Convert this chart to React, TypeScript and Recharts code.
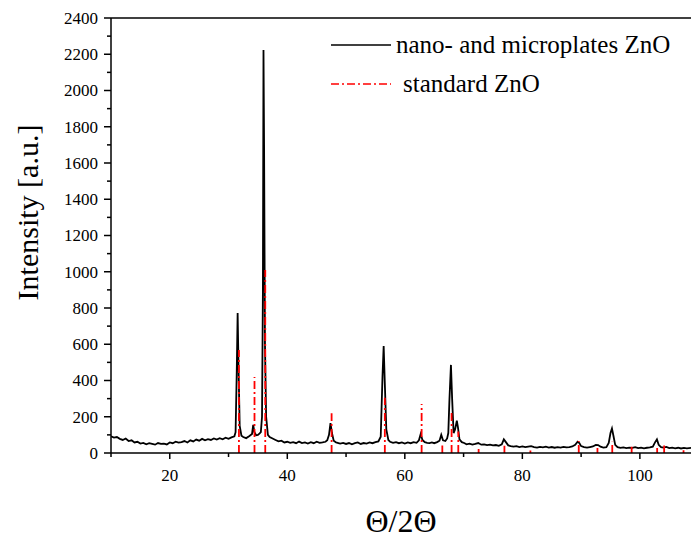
import { LineChart, Line, XAxis, YAxis, Legend, ReferenceLine, Label } from 'recharts';

// measured XRD pattern (2θ, intensity)
const twoTheta = [
  10.0, 10.5, 11.0, 11.5, 12.0, 12.5, 13.0, 13.5, 14.0, 14.5, 15.0, 15.5, 16.0, 16.5, 17.0, 17.5,
  18.0, 18.5, 19.0, 19.5, 20.0, 20.5, 21.0, 21.5, 22.0, 22.5, 23.0, 23.5, 24.0, 24.5, 25.0, 25.5,
  26.0, 26.5, 27.0, 27.5, 28.0, 28.5, 29.0, 29.5, 30.0, 30.5, 31.0, 31.2, 31.4, 31.55, 31.7, 31.9,
  32.2, 32.5, 33.0, 33.5, 34.0, 34.2, 34.4, 34.7, 35.0, 35.3, 35.5, 35.7, 35.85, 35.95, 36.05, 36.2,
  36.4, 36.7, 37.0, 37.5, 38.0, 38.5, 39.0, 39.5, 40.0, 40.5, 41.0, 41.5, 42.0, 42.5, 43.0, 43.5,
  44.0, 44.5, 45.0, 45.5, 46.0, 46.5, 46.8, 47.1, 47.35, 47.6, 47.9, 48.3, 48.7, 49.0, 49.5, 50.0,
  50.5, 51.0, 51.5, 52.0, 52.5, 53.0, 53.5, 54.0, 54.5, 55.0, 55.5, 55.9, 56.2, 56.4, 56.6, 56.85,
  57.2, 57.5, 58.0, 58.5, 59.0, 59.5, 60.0, 60.5, 61.0, 61.5, 62.0, 62.4, 62.7, 63.0, 63.4, 63.8,
  64.2, 64.6, 65.0, 65.5, 65.9, 66.2, 66.5, 66.9, 67.2, 67.4, 67.6, 67.85, 68.05, 68.3, 68.55, 68.85,
  69.05, 69.3, 69.7, 70.1, 70.5, 71.0, 71.5, 72.0, 72.5, 73.0, 73.5, 74.0, 74.5, 75.0, 75.5, 76.0,
  76.5, 76.85, 77.2, 77.6, 78.0, 78.5, 79.0, 79.5, 80.0, 80.5, 81.0, 81.5, 82.0, 82.5, 83.0, 83.5,
  84.0, 84.5, 85.0, 85.5, 86.0, 86.5, 87.0, 87.5, 88.0, 88.5, 89.0, 89.4, 89.7, 90.0, 90.5, 91.0,
  91.5, 92.0, 92.5, 92.9, 93.3, 93.8, 94.3, 94.7, 95.0, 95.25, 95.5, 95.8, 96.2, 96.7, 97.2, 97.7,
  98.2, 98.7, 99.2, 99.7, 100.2, 100.7, 101.2, 101.7, 102.2, 102.6, 102.9, 103.2, 103.6, 104.0, 104.5, 105.0,
  105.5, 106.0, 106.5, 107.0, 107.5, 108.0, 108.7,
];
const intensity = [
  92, 85, 88, 78, 72, 80, 66, 70, 58, 62, 52, 56, 48, 54, 50, 46,
  55, 50, 52, 47, 58, 54, 62, 57, 60, 66, 58, 70, 64, 74, 68, 78,
  70, 76, 72, 80, 74, 82, 76, 84, 78, 86, 92, 115, 450, 772, 480, 150,
  95, 88, 82, 92, 105, 155, 115, 98, 100, 108, 115, 200, 900, 2223, 1700, 600,
  200, 100, 88, 80, 72, 64, 68, 58, 62, 56, 60, 54, 63, 55, 58, 52,
  60, 54, 62, 56, 58, 62, 70, 100, 165, 110, 68, 58, 55, 52, 56, 50,
  55, 48, 54, 58, 50, 55, 52, 58, 54, 60, 64, 90, 420, 590, 380, 130,
  72, 62, 56, 60, 54, 58, 52, 58, 54, 60, 56, 70, 105, 72, 60, 56,
  55, 58, 54, 60, 68, 100, 70, 66, 80, 110, 300, 486, 300, 110, 130, 178,
  140, 75, 60, 55, 48, 52, 46, 50, 55, 46, 48, 44, 46, 42, 44, 40,
  48, 75, 60, 42, 38, 35, 38, 33, 36, 32, 35, 38, 33, 30, 34, 31,
  35, 30, 33, 29, 32, 30, 34, 31, 33, 36, 45, 62, 55, 38, 32, 30,
  33, 36, 45, 44, 35, 30, 32, 55, 110, 135, 95, 45, 32, 28, 31, 27,
  30, 28, 32, 27, 30, 26, 29, 31, 35, 60, 75, 45, 32, 30, 34, 27,
  30, 26, 29, 25, 28, 26, 28,
];

// standard ZnO reference reflections
const stdTheta = [31.77, 34.42, 36.25, 47.54, 56.6, 62.86, 66.38, 67.96, 69.1, 72.56, 76.95, 81.37, 89.6, 92.78, 95.3, 98.6, 102.94, 104.13, 107.43];
const stdIntensity = [568, 419, 1010, 220, 305, 270, 42, 225, 118, 22, 40, 14, 66, 28, 62, 35, 27, 42, 15];

const xTicks = [10, 20, 30, 40, 50, 60, 70, 80, 90, 100];
const yTicks = [0, 100, 200, 300, 400, 500, 600, 700, 800, 900, 1000, 1100, 1200, 1300, 1400, 1500, 1600, 1700, 1800, 1900, 2000, 2100, 2200, 2300, 2400];

const FONT = 'Liberation Serif';

const pattern = twoTheta.map((t, i) => ({ t, v: intensity[i] }));

// each stick: baseline, top, then a gap
const sticks = stdTheta.flatMap((t, i) => [
  { t, v: 0 },
  { t, v: stdIntensity[i] },
  { t, v: null },
]);

const XTick = (props: any) => {
  const { x, y, payload } = props;
  const major = payload.value % 20 === 0;
  return (
    <g>
      <line x1={x} x2={x} y1={y} y2={y + (major ? 6 : 4)} stroke="#000" strokeWidth={1.5} />
      {major && (
        <text x={x} y={y + 28} textAnchor="middle" fontFamily={FONT} fontSize={17} fill="#000">
          {payload.value}
        </text>
      )}
    </g>
  );
};

const YTick = (props: any) => {
  const { x, y, payload } = props;
  const major = payload.value % 200 === 0;
  return (
    <g>
      <line x1={x} x2={x - (major ? 7 : 4)} y1={y} y2={y} stroke="#000" strokeWidth={1.5} />
      {major && (
        <text x={x - 13} y={y} dy="0.35em" textAnchor="end" fontFamily={FONT} fontSize={17} fill="#000">
          {payload.value}
        </text>
      )}
    </g>
  );
};

const LegendBox = (props: any) => {
  const items = props.payload || [];
  return (
    <div style={{ fontFamily: FONT, fontSize: 25, color: '#000' }}>
      {items.map((it: any, i: number) => (
        <div key={i} style={{ display: 'flex', alignItems: 'center', height: 39 }}>
          <svg width={64} height={10} style={{ marginRight: i === 0 ? 3 : 10 }}>
            <line
              x1={2}
              x2={62}
              y1={5}
              y2={5}
              stroke={it.color}
              strokeWidth={1.6}
              strokeDasharray={it.payload?.strokeDasharray}
            />
          </svg>
          <span>{it.value}</span>
        </div>
      ))}
    </div>
  );
};

export default function App() {
  return (
    <div style={{ position: 'absolute', left: 0, top: 0 }}>
      <LineChart width={691} height={539} margin={{ top: 18, right: 0, left: 0, bottom: 0 }}>
        <XAxis
          dataKey="t"
          type="number"
          domain={[10, 108.7]}
          allowDataOverflow
          ticks={xTicks}
          interval={0}
          tickSize={0}
          tickMargin={0}
          tickLine={false}
          tick={<XTick />}
          height={86}
          stroke="#000"
          strokeWidth={1.5}
        >
          <Label
            content={(p: any) => {
              const vb = p.viewBox;
              return (
                <text x={vb.x + vb.width / 2} y={vb.y + 79} textAnchor="middle" fontFamily={FONT} fontSize={32} fill="#000">
                  Θ/2Θ
                </text>
              );
            }}
          />
        </XAxis>
        <YAxis
          type="number"
          domain={[0, 2400]}
          allowDataOverflow
          ticks={yTicks}
          interval={0}
          tickSize={0}
          tickMargin={0}
          tickLine={false}
          tick={<YTick />}
          width={111}
          stroke="#000"
          strokeWidth={1.5}
        >
          <Label
            content={(p: any) => {
              const vb = p.viewBox;
              const cx = vb.x + 38;
              const cy = vb.y + vb.height / 2 - 23;
              return (
                <text x={cx} y={cy} transform={`rotate(-90, ${cx}, ${cy})`} textAnchor="middle" fontFamily={FONT} fontSize={30} fill="#000">
                  Intensity [a.u.]
                </text>
              );
            }}
          />
        </YAxis>
        <ReferenceLine y={2400} stroke="#000" strokeWidth={1.5} />
        <Legend
          verticalAlign="middle"
          align="center"
          layout="horizontal"
          content={<LegendBox />}
          wrapperStyle={{ left: 329, top: 25, width: 362 }}
        />
        <Line
          data={pattern}
          dataKey="v"
          name="nano- and microplates ZnO"
          type="linear"
          stroke="#000"
          strokeWidth={1.8}
          dot={false}
          isAnimationActive={false}
        />
        <Line
          data={sticks}
          dataKey="v"
          name="standard ZnO"
          type="linear"
          stroke="#ff0000"
          strokeWidth={1.8}
          strokeDasharray="8 3 2 3"
          dot={false}
          connectNulls={false}
          isAnimationActive={false}
        />
      </LineChart>
    </div>
  );
}
